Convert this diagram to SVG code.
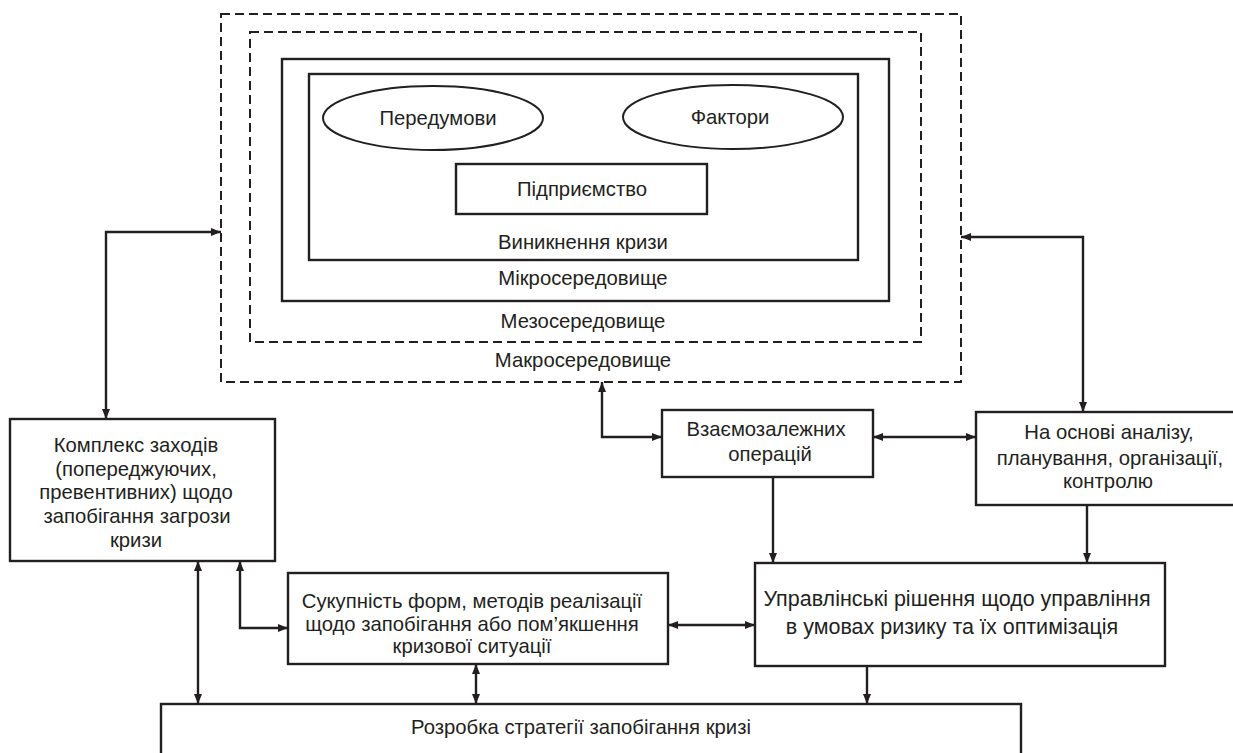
<svg xmlns="http://www.w3.org/2000/svg" width="1233" height="753" viewBox="0 0 1233 753">
<style>
.bg{fill:#ffffff}
.box{fill:#ffffff;stroke:#231f20;stroke-width:2.4}
.frame{fill:none;stroke:#231f20;stroke-width:2.4}
.dash{fill:none;stroke:#231f20;stroke-width:2;stroke-dasharray:9 5}
.ell{fill:#ffffff;stroke:#231f20;stroke-width:2}
.t{font-family:"Liberation Sans",Arial,sans-serif;font-size:20.3px;fill:#231f20;text-anchor:middle}
.big{font-size:21.5px}
.c{fill:none;stroke:#231f20;stroke-width:2.4}
</style>
<defs>
<marker id="ah" viewBox="0 0 10 8" refX="10" refY="4" markerWidth="10" markerHeight="8" markerUnits="userSpaceOnUse" orient="auto-start-reverse">
<path d="M0,0 L10,4 L0,8 z" fill="#231f20"/>
</marker>
</defs>
<rect class="bg" x="0" y="0" width="1233" height="753"/>

<g id="macro">
<rect class="dash" x="221" y="14" width="740" height="368"/>
<text class="t" x="583" y="367">Макросередовище</text>
</g>
<g id="meso">
<rect class="dash" x="250" y="32" width="671" height="310"/>
<text class="t" x="583" y="328">Мезосередовище</text>
</g>
<g id="micro">
<rect class="frame" x="282" y="59" width="607" height="242"/>
<text class="t" x="583" y="285">Мікросередовище</text>
</g>
<g id="crisis">
<rect class="frame" x="309" y="74" width="549" height="186"/>
<text class="t" x="583" y="249">Виникнення кризи</text>
</g>
<g id="peredumovy">
<ellipse class="ell" cx="433" cy="118" rx="110" ry="32"/>
<text class="t" x="438" y="125">Передумови</text>
</g>
<g id="faktory">
<ellipse class="ell" cx="733" cy="117" rx="110" ry="32"/>
<text class="t" x="730" y="124">Фактори</text>
</g>
<g id="pidpryiemstvo">
<rect class="box" x="456" y="164" width="251" height="50"/>
<text class="t" x="582" y="196">Підприємство</text>
</g>

<g id="kompleks">
<rect class="box" x="10" y="419" width="265" height="142"/>
<text class="t" x="136" y="452">Комплекс заходів</text>
<text class="t" x="136" y="476">(попереджуючих,</text>
<text class="t" x="136" y="499">превентивних) щодо</text>
<text class="t" x="137" y="523">запобігання загрози</text>
<text class="t" x="136" y="547">кризи</text>
</g>

<g id="vzaiemozalezhnykh">
<rect class="box" x="662" y="410" width="211" height="67"/>
<text class="t" x="766" y="436">Взаємозалежних</text>
<text class="t" x="770" y="461">операцій</text>
</g>

<g id="na-osnovi">
<rect class="box" x="976" y="412" width="280" height="93"/>
<text class="t" x="1109" y="439">На основі аналізу,</text>
<text class="t" x="1110" y="465">планування, організації,</text>
<text class="t" x="1108" y="488">контролю</text>
</g>

<g id="sukupnist">
<rect class="box" x="288" y="573" width="380" height="91"/>
<text class="t" x="472" y="608">Сукупність форм, методів реалізації</text>
<text class="t" x="472" y="631">щодо запобігання або пом’якшення</text>
<text class="t" x="472" y="653">кризової ситуації</text>
</g>

<g id="upravlinski">
<rect class="box" x="755" y="563" width="410" height="103"/>
<text class="t big" x="957" y="606">Управлінські рішення щодо управління</text>
<text class="t big" x="952" y="634">в умовах ризику та їх оптимізація</text>
</g>

<g id="rozrobka">
<rect class="box" x="161" y="704" width="860" height="80"/>
<text class="t" x="581" y="734">Розробка стратегії запобігання кризі</text>
</g>

<g id="connectors">
<path class="c" d="M106,419 V232 H221" marker-start="url(#ah)" marker-end="url(#ah)"/>
<path class="c" d="M1083,412 V237 H961" marker-start="url(#ah)" marker-end="url(#ah)"/>
<path class="c" d="M602,382 V437 H662" marker-start="url(#ah)" marker-end="url(#ah)"/>
<path class="c" d="M873,437 H976" marker-start="url(#ah)" marker-end="url(#ah)"/>
<path class="c" d="M773,477 V563" marker-end="url(#ah)"/>
<path class="c" d="M1087,505 V563" marker-end="url(#ah)"/>
<path class="c" d="M668,625 H755" marker-start="url(#ah)" marker-end="url(#ah)"/>
<path class="c" d="M240,561 V628 H288" marker-start="url(#ah)" marker-end="url(#ah)"/>
<path class="c" d="M198,561 V704" marker-start="url(#ah)" marker-end="url(#ah)"/>
<path class="c" d="M476,664 V704" marker-start="url(#ah)" marker-end="url(#ah)"/>
<path class="c" d="M867,666 V704" marker-end="url(#ah)"/>
</g>
</svg>
